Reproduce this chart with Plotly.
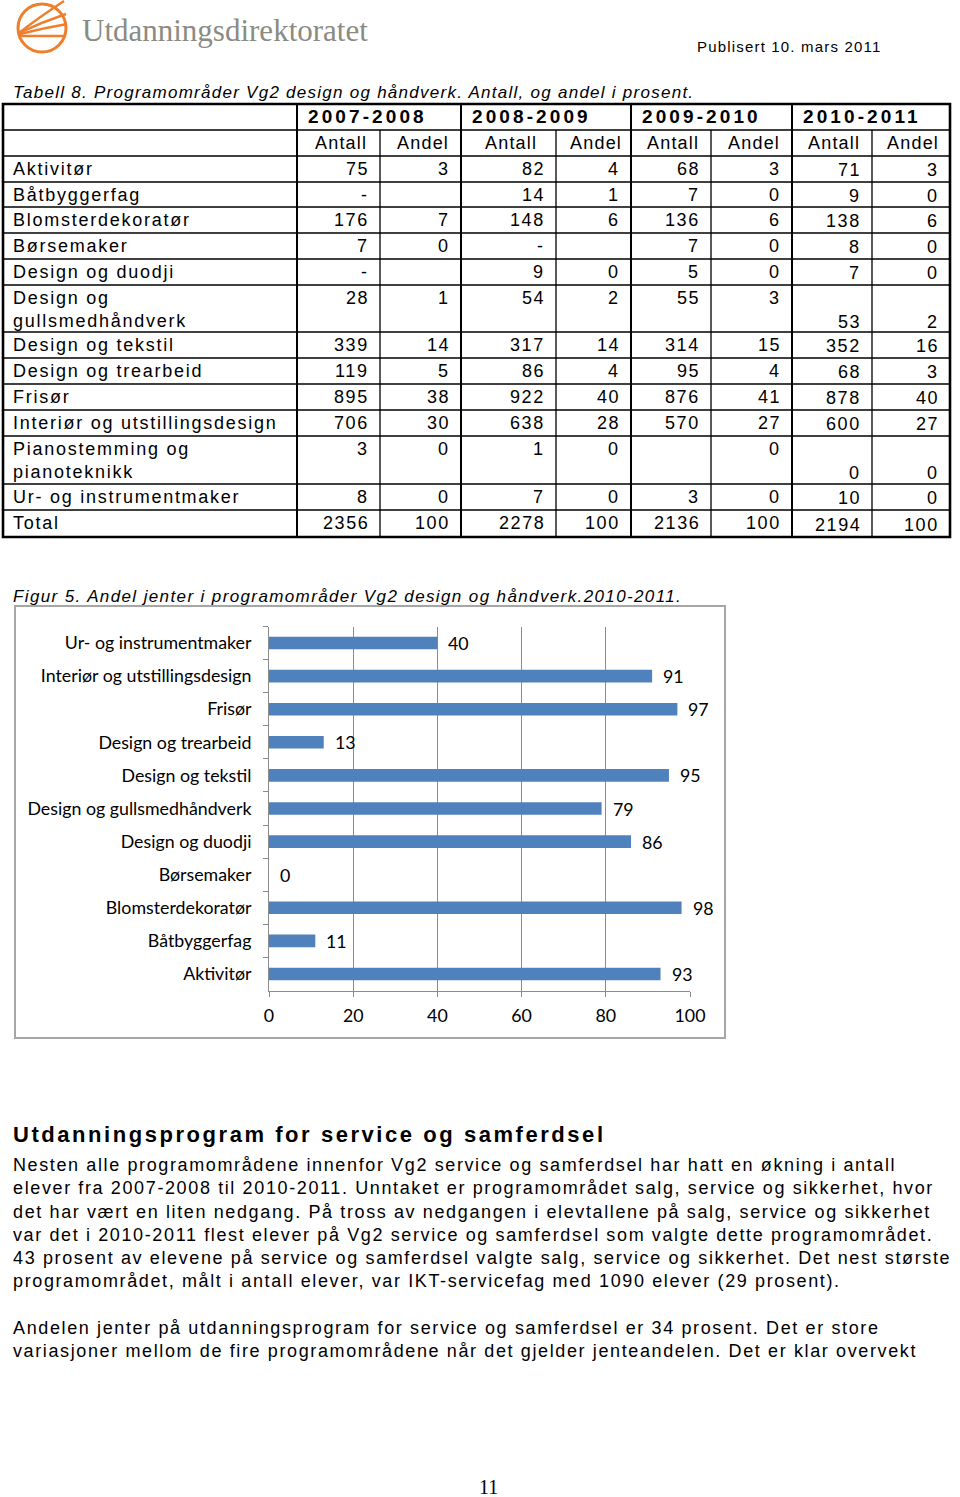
import plotly.graph_objects as go

W, H = 960, 1497

# ---------------- data ----------------
org_name = "Utdanningsdirektoratet"
published = "Publisert 10. mars 2011"
table_title = "Tabell 8. Programområder Vg2 design og håndverk. Antall, og andel i prosent."
figure_title = "Figur 5. Andel jenter i programområder Vg2 design og håndverk.2010-2011."

years = ["2007-2008", "2008-2009", "2009-2010", "2010-2011"]
sub_headers = ["Antall", "Andel"]
row_names = ["Aktivitør", "Båtbyggerfag", "Blomsterdekoratør", "Børsemaker", "Design og duodji",
             "Design og|gullsmedhåndverk", "Design og tekstil", "Design og trearbeid", "Frisør",
             "Interiør og utstillingsdesign", "Pianostemming og|pianoteknikk",
             "Ur- og instrumentmaker", "Total"]
antall_2007_2008 = ["75", "-", "176", "7", "-", "28", "339", "119", "895", "706", "3", "8", "2356"]
andel_2007_2008 = ["3", "", "7", "0", "", "1", "14", "5", "38", "30", "0", "0", "100"]
antall_2008_2009 = ["82", "14", "148", "-", "9", "54", "317", "86", "922", "638", "1", "7", "2278"]
andel_2008_2009 = ["4", "1", "6", "", "0", "2", "14", "4", "40", "28", "0", "0", "100"]
antall_2009_2010 = ["68", "7", "136", "7", "5", "55", "314", "95", "876", "570", "", "3", "2136"]
andel_2009_2010 = ["3", "0", "6", "0", "0", "3", "15", "4", "41", "27", "0", "0", "100"]
antall_2010_2011 = ["71", "9", "138", "8", "7", "53", "352", "68", "878", "600", "0", "10", "2194"]
andel_2010_2011 = ["3", "0", "6", "0", "0", "2", "16", "3", "40", "27", "0", "0", "100"]

chart_categories = ["Aktivitør", "Båtbyggerfag", "Blomsterdekoratør", "Børsemaker", "Design og duodji",
                    "Design og gullsmedhåndverk", "Design og tekstil", "Design og trearbeid", "Frisør",
                    "Interiør og utstillingsdesign", "Ur- og instrumentmaker"]
chart_values = [93, 11, 98, 0, 86, 79, 95, 13, 97, 91, 40]
x_tick_values = [0, 20, 40, 60, 80, 100]

section_heading = "Utdanningsprogram for service og samferdsel"
paragraph_lines = [
    "Nesten alle programområdene innenfor Vg2 service og samferdsel har hatt en økning i antall",
    "elever fra 2007-2008 til 2010-2011. Unntaket er programområdet salg, service og sikkerhet, hvor",
    "det har vært en liten nedgang. På tross av nedgangen i elevtallene på salg, service og sikkerhet",
    "var det i 2010-2011 flest elever på Vg2 service og samferdsel som valgte dette programområdet.",
    "43 prosent av elevene på service og samferdsel valgte salg, service og sikkerhet. Det nest største",
    "programområdet, målt i antall elever, var IKT-servicefag med 1090 elever (29 prosent).",
    "",
    "Andelen jenter på utdanningsprogram for service og samferdsel er 34 prosent. Det er store",
    "variasjoner mellom de fire programområdene når det gjelder jenteandelen. Det er klar overvekt",
]
page_number = "11"

# ---------------- helpers ----------------
SANS = "Liberation Sans, Arial, sans-serif"
SERIF = "Liberation Serif, Times New Roman, serif"
CHART_FONT = "Lato, Carlito, sans-serif"


def X(px):
    return px / W


def Y(py):
    return 1 - py / H


shapes = []
annotations = []


def hline(x0, x1, y, w=1.2, color="black"):
    shapes.append(dict(type="line", xref="paper", yref="paper", x0=X(x0), x1=X(x1), y0=Y(y), y1=Y(y),
                       line=dict(color=color, width=w)))


def vline(x, y0, y1, w=1.2, color="black"):
    shapes.append(dict(type="line", xref="paper", yref="paper", x0=X(x), x1=X(x), y0=Y(y0), y1=Y(y1),
                       line=dict(color=color, width=w)))


def text(x, y, s, size=17, family=SANS, color="black", anchor="left", ls=0.0, bold=False, italic=False):
    if ls:
        s = f'<span style="letter-spacing:{ls}px">{s}</span>'
    if bold:
        s = f"<b>{s}</b>"
    if italic:
        s = f"<i>{s}</i>"
    annotations.append(dict(xref="paper", yref="paper", x=X(x), y=Y(y), text=s, showarrow=False,
                            xanchor=anchor, yanchor="middle", borderpad=0, borderwidth=0,
                            font=dict(size=size, family=family, color=color)))


# ---------------- header / logo ----------------
ORANGE = "#EE7F2D"
shapes.append(dict(type="circle", xref="paper", yref="paper", x0=X(18), x1=X(66), y0=Y(52), y1=Y(4),
                   line=dict(color=ORANGE, width=3)))


def ppath(cmds):
    out = []
    for c in cmds:
        if isinstance(c, str):
            out.append(c)
        else:
            out.append(f"{X(c[0]):.5f},{Y(c[1]):.5f}")
    return " ".join(out)


for p in [
    ["M", (19, 33), "Q", (38, 18), (64, 1)],
    ["M", (19, 33), "Q", (42, 22), (66, 14)],
    ["M", (20, 34), "Q", (44, 28), (67, 24)],
    ["M", (19, 36), "L", (66, 36)],
]:
    shapes.append(dict(type="path", xref="paper", yref="paper", path=ppath(p),
                       line=dict(color=ORANGE, width=2.4)))

text(82, 30, org_name, size=31, family=SERIF, color="#8B8B82")
text(881, 47, published, size=15, anchor="right", ls=1.18)

# ---------------- table ----------------
text(13, 92, table_title, size=17, italic=True, ls=1.26)

col_x = [3, 297, 380, 461, 556, 631, 711, 792, 872, 950]
row_y = [104, 130, 156, 182, 207, 233, 259, 285, 332, 358, 384, 410, 436, 484, 510, 537]

for yy in row_y[1:-1]:
    hline(col_x[0], col_x[-1], yy, w=1.3)
for i, xx in enumerate(col_x[1:-1]):
    if i % 2 == 0:
        vline(xx, row_y[0], row_y[-1], w=2.0)
    else:
        vline(xx, row_y[1], row_y[-1], w=1.3)
shapes.append(dict(type="rect", xref="paper", yref="paper", x0=X(col_x[0]), x1=X(col_x[-1]),
                   y0=Y(row_y[-1]), y1=Y(row_y[0]), line=dict(color="black", width=2.6)))

for i, yr in enumerate(years):
    text(col_x[1 + 2 * i] + 11, (row_y[0] + row_y[1]) / 2, yr, size=19, bold=True, ls=3.1)
    for j, sh in enumerate(sub_headers):
        cx = (col_x[1 + 2 * i + j] + col_x[2 + 2 * i + j]) / 2 + 2
        text(cx, (row_y[1] + row_y[2]) / 2, sh, size=18, anchor="center", ls=1.2)

value_columns = [antall_2007_2008, andel_2007_2008, antall_2008_2009, andel_2008_2009,
                 antall_2009_2010, andel_2009_2010, antall_2010_2011, andel_2010_2011]

for r, name in enumerate(row_names):
    top, bot = row_y[2 + r], row_y[3 + r]
    two_line = "|" in name
    if two_line:
        l1, l2 = name.split("|")
        y1, y2 = top + 13, top + 36
        text(13, y1, l1, size=18, ls=1.74)
        text(13, y2, l2, size=18, ls=1.74)
    else:
        y1 = y2 = (top + bot) / 2
        text(13, y1, name, size=18, ls=1.74)
    for c, col in enumerate(value_columns):
        v = col[r]
        if not v:
            continue
        yy = (y2 + 1) if c >= 6 else y1
        text(col_x[2 + c] - 11, yy, v, size=18, anchor="right", ls=1.6)

# ---------------- chart ----------------
text(13, 596, figure_title, size=17, italic=True, ls=1.38)
shapes.append(dict(type="rect", xref="paper", yref="paper", x0=X(15), x1=X(725), y0=Y(1038), y1=Y(606),
                   line=dict(color="#A6A6A6", width=2)))

fig = go.Figure()
fig.add_trace(go.Bar(x=chart_values, y=chart_categories, orientation="h", width=0.38,
                     marker=dict(color="#4F81BD", line=dict(width=0)), hoverinfo="skip"))

for cat, v in zip(chart_categories, chart_values):
    annotations.append(dict(xref="x", yref="y", x=v, y=cat, text=str(v), showarrow=False,
                            xanchor="left", yanchor="middle", xshift=11, borderpad=0, borderwidth=0,
                            font=dict(size=17.8, family=CHART_FONT, color="black")))

AXC = "#8C8C8C"

# ---------------- text below ----------------
text(13, 1134, section_heading, size=22, bold=True, ls=2.55)
yy = 1165
for ln in paragraph_lines:
    if ln:
        text(13, yy, ln, size=18, ls=1.62)
    yy += 23.3
text(488, 1487, page_number, size=20, family=SERIF, anchor="center")

fig.update_layout(
    width=W, height=H, autosize=False,
    margin=dict(l=0, r=0, t=0, b=0, pad=0, autoexpand=False),
    paper_bgcolor="white", plot_bgcolor="white",
    showlegend=False,
    shapes=shapes, annotations=annotations,
    xaxis=dict(domain=[X(269), X(690)], range=[0, 100], tickvals=x_tick_values,
               showgrid=True, gridcolor=AXC, gridwidth=1, zeroline=False,
               showline=True, linecolor=AXC, linewidth=1,
               ticks="outside", ticklen=5, tickcolor=AXC, ticklabelstandoff=4, automargin=False,
               tickfont=dict(size=17.8, family=CHART_FONT, color="black"), fixedrange=True),
    yaxis=dict(domain=[Y(990.5), Y(626.5)], type="category", categoryorder="array",
               categoryarray=chart_categories, tickson="boundaries", automargin=False,
               showgrid=False, zeroline=False, showline=True, linecolor=AXC, linewidth=1,
               ticks="outside", ticklen=5, tickcolor=AXC, ticklabelstandoff=13,
               tickfont=dict(size=17.8, family=CHART_FONT, color="black"), fixedrange=True),
)

fig.write_html(
    "out.html", config={"displayModeBar": False},
    post_script=("document.documentElement.style.overflow='hidden';"
                 "document.body.style.margin='0';document.body.style.overflow='hidden';"),
)
